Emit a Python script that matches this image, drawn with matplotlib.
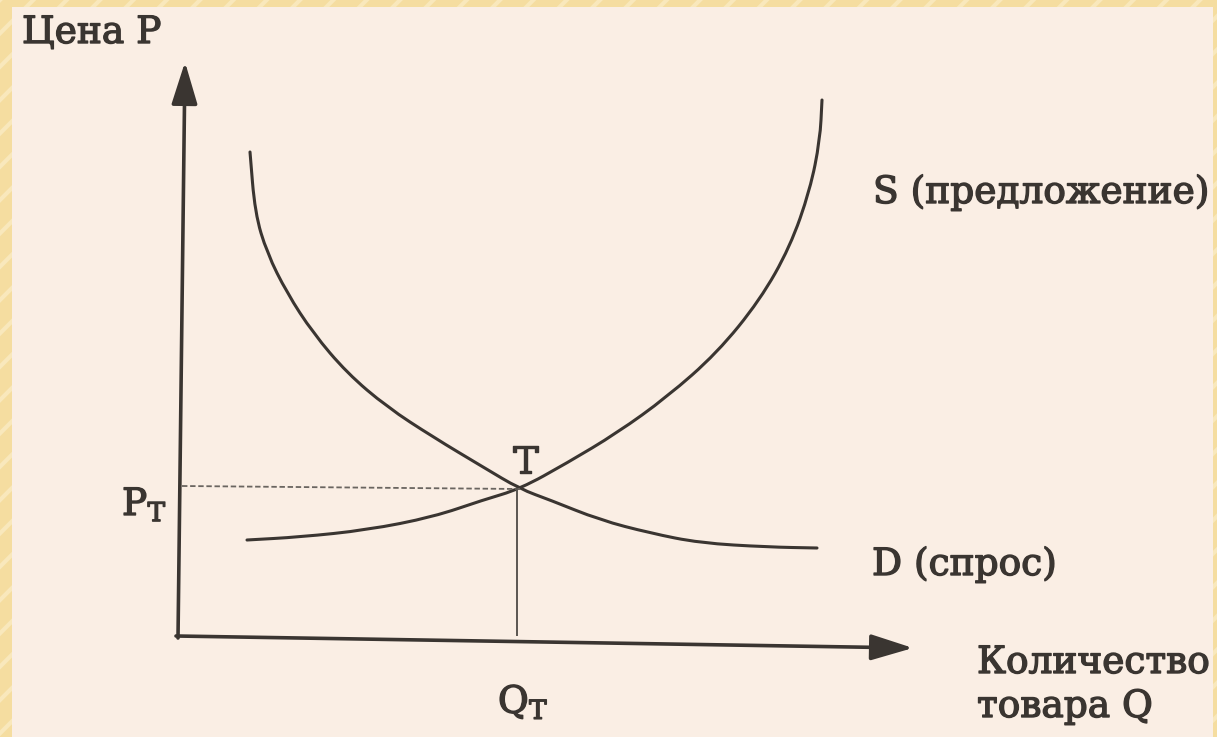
import matplotlib.pyplot as plt
import matplotlib.patheffects as pe
from matplotlib.patches import Rectangle, PathPatch
from matplotlib.path import Path

# supply and demand curves (Q, P units)
demand_q = [0.72, 0.77, 0.89, 1.09, 1.35, 1.69, 2.09, 2.55, 3.05, 3.42, 3.72, 4.22, 4.72, 5.22, 5.89, 6.39]
demand_p = [4.84, 4.23, 3.83, 3.43, 3.03, 2.63, 2.29, 1.99, 1.69, 1.47, 1.36, 1.16, 1.03, 0.93, 0.89, 0.88]
supply_q = [0.69, 1.22, 1.89, 2.55, 3.05, 3.42, 3.89, 4.39, 4.89, 5.39, 5.82, 6.12, 6.32, 6.42, 6.44]
supply_p = [0.96, 0.99, 1.06, 1.19, 1.36, 1.47, 1.73, 2.03, 2.39, 2.83, 3.36, 3.89, 4.46, 4.96, 5.36]
q_eq = 3.42
p_eq = 1.47

ink = '#3a3531'
plt.rcParams['font.family'] = ['DejaVu Serif']
plt.rcParams['hatch.linewidth'] = 3


def smooth_curve(xs, ys):
    # quadratic bezier chain, the read points act as control points
    verts = [(xs[0], ys[0])]
    codes = [Path.MOVETO]
    for i in range(1, len(xs) - 1):
        mid = ((xs[i] + xs[i + 1]) / 2, (ys[i] + ys[i + 1]) / 2)
        if i == 1:
            verts.append(((xs[0] + xs[1]) / 2, (ys[0] + ys[1]) / 2))
            codes.append(Path.LINETO)
        verts += [(xs[i], ys[i]), mid]
        codes += [Path.CURVE3, Path.CURVE3]
    verts.append((xs[-1], ys[-1]))
    codes.append(Path.LINETO)
    return Path(verts, codes)


fig = plt.figure(figsize=(12.17, 7.37), dpi=100, facecolor='#F5DDA0')
# striped yellow frame strips (left, top, right) around the scanned page
for rect in [(0, 0, 12 / 1217, 1), (0, 730 / 737, 1, 7 / 737), (1213 / 1217, 0, 4 / 1217, 1)]:
    fig.patches.append(Rectangle(rect[:2], rect[2], rect[3], transform=fig.transFigure,
                                 facecolor='#F5DDA0', edgecolor='#F9E8BC', lw=0,
                                 hatch='/', zorder=-20))
fig.patches.append(Rectangle((12 / 1217, 0), 1201 / 1217, 730 / 737,
                             transform=fig.transFigure, facecolor='#FAEEE4',
                             edgecolor='none', zorder=-10))

# origin at pixel (178, 636), 100 px per unit
ax = fig.add_axes([178 / 1217, 101 / 737, 735 / 1217, 574 / 737])
ax.set_xlim(0, 7.35)
ax.set_ylim(0, 5.74)
ax.axis('off')
ax.patch.set_alpha(0)

for xs, ys in [(demand_q, demand_p), (supply_q, supply_p)]:
    ax.add_patch(PathPatch(smooth_curve(xs, ys), facecolor='none', edgecolor=ink,
                           lw=2.2, capstyle='round', clip_on=False))
ax.plot([0.04, q_eq], [p_eq + 0.03, p_eq], color='#6a6560', lw=1.3, ls=(0, (3, 1.5)))
ax.plot([q_eq - 0.03, q_eq - 0.03], [0, p_eq], color='#5a5550', lw=1.4)

arrow = dict(arrowstyle='-|>,head_length=2.6,head_width=0.8', color=ink, lw=2.6, shrinkA=0, shrinkB=0)
ax.annotate('', xy=(0.07, 5.74), xytext=(0, -0.02), arrowprops=arrow, annotation_clip=False)
ax.annotate('', xy=(7.35, -0.12), xytext=(-0.02, 0), arrowprops=arrow, annotation_clip=False)

fs = 27
txt = dict(fontsize=fs, color=ink, va='baseline', clip_on=False,
           path_effects=[pe.withStroke(linewidth=1.0, foreground=ink)])
ax.text(-1.56, 5.93, 'Цена P', **txt)
ax.text(6.95, 4.33, 'S (предложение)', **txt)
ax.text(6.94, 0.61, 'D (спрос)', **txt)
ax.text(7.99, -0.37, 'Количество', **txt)
ax.text(7.99, -0.81, 'товара Q', **txt)
ax.text(3.35, 1.63, 'T', **txt)
ax.text(-0.56, 1.21, 'P$_{\\mathregular{T}}$', **txt)
ax.text(3.20, -0.77, 'Q$_{\\mathregular{T}}$', **txt)

fig.savefig('out.png', dpi=100, facecolor=fig.get_facecolor())
